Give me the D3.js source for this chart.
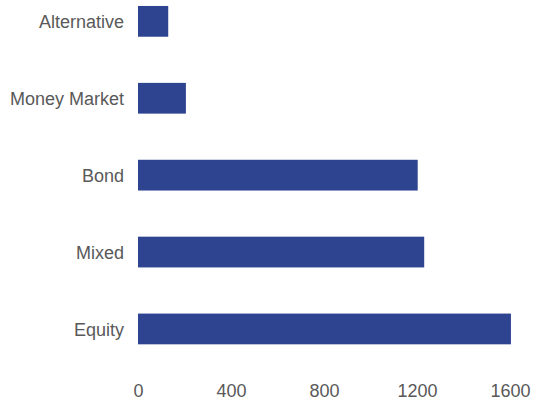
<!DOCTYPE html>
<html>
<head>
<meta charset="utf-8">
<script src="https://cdn.jsdelivr.net/npm/d3@7"></script>
<style>
  html, body { margin: 0; padding: 0; background: #ffffff; }
  svg { display: block; }
</style>
</head>
<body>
<svg id="chart" width="533" height="403"></svg>
<script>
const categories = ["Alternative", "Money Market", "Bond", "Mixed", "Equity"];
const values = [130, 206, 1203, 1231, 1604];
const tickValues = [0, 400, 800, 1200, 1600];

const svg = d3.select("#chart");
const x = d3.scaleLinear().domain([0, 1600]).range([138, 510]);
const y = d3.scaleBand().domain(categories).range([-17.1, 367.4])
  .paddingInner(0.6).paddingOuter(0.3);

const data = categories.map((c, i) => ({ c, v: values[i] }));

svg.append("g").selectAll("rect").data(data).join("rect")
  .attr("x", x(0))
  .attr("y", d => y(d.c))
  .attr("width", d => x(d.v) - x(0))
  .attr("height", y.bandwidth())
  .attr("fill", "#2e4490");

const yAxis = svg.append("g")
  .attr("transform", `translate(${x(0) - 14},0.8)`)
  .call(d3.axisLeft(y).tickSize(0).tickPadding(0));
yAxis.select(".domain").remove();
yAxis.selectAll("text")
  .attr("font-family", "Liberation Sans, Arial, sans-serif")
  .attr("font-size", 18)
  .attr("fill", "#595959");

const xAxis = svg.append("g")
  .attr("transform", "translate(0,384)")
  .call(d3.axisBottom(x).tickValues(tickValues).tickFormat(d3.format("d")).tickSize(0).tickPadding(0));
xAxis.select(".domain").remove();
xAxis.selectAll("text")
  .attr("font-family", "Liberation Sans, Arial, sans-serif")
  .attr("font-size", 18)
  .attr("fill", "#595959");
</script>
</body>
</html>
